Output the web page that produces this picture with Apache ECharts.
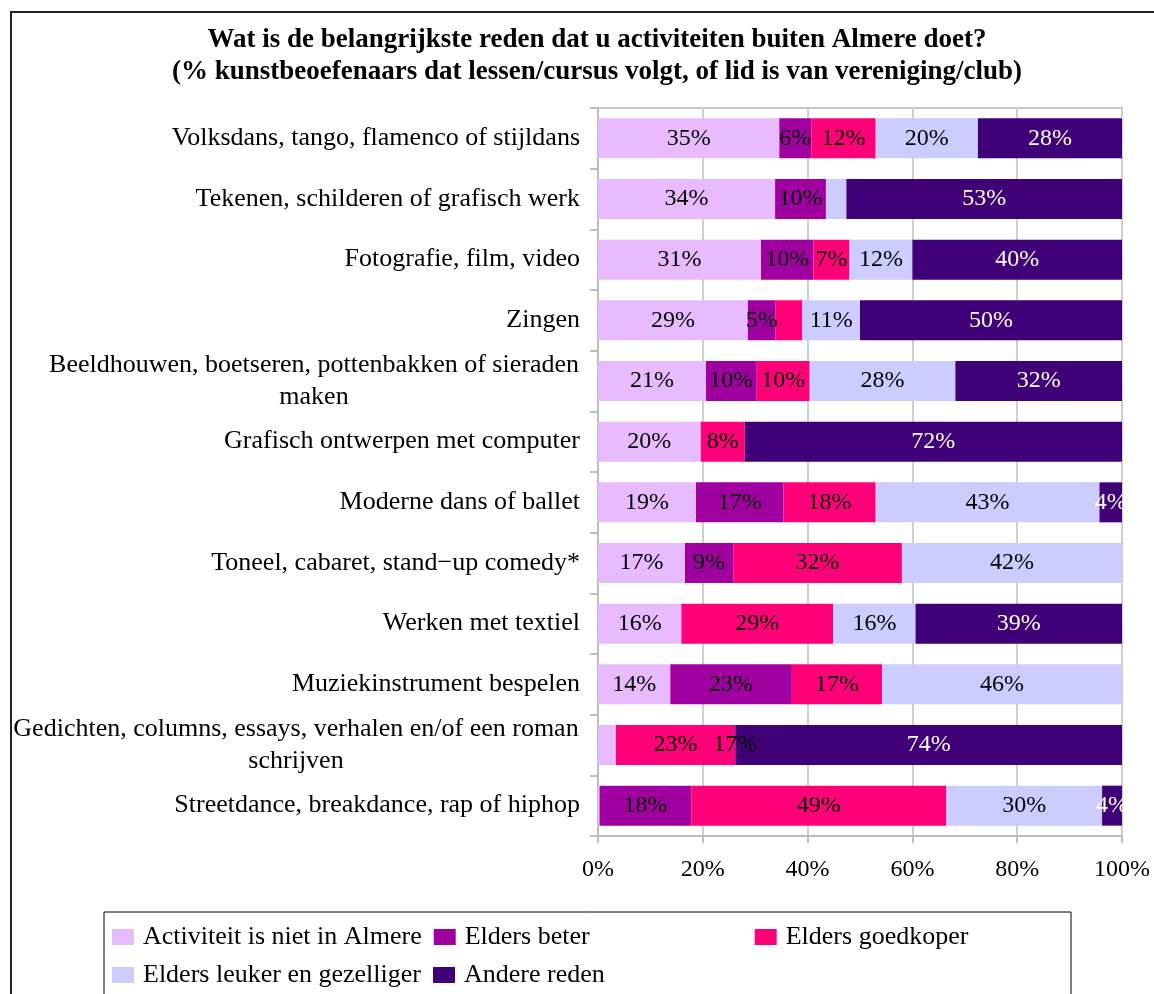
<!DOCTYPE html>
<html>
<head>
<meta charset="utf-8">
<script src="https://cdn.jsdelivr.net/npm/echarts@6/dist/echarts.min.js"></script>
<style>
  html, body { margin: 0; padding: 0; background: #fff; }
  #chart { width: 1154px; height: 994px; }
</style>
</head>
<body>
<div id="chart"></div>
<script>
// ---------- DATA ----------
const titleLines = [
  'Wat is de belangrijkste reden dat u activiteiten buiten Almere doet?',
  '(% kunstbeoefenaars dat lessen/cursus volgt, of lid is van vereniging/club)'
];
const categories = [
  'Volksdans, tango, flamenco of stijldans',
  'Tekenen, schilderen of grafisch werk',
  'Fotografie, film, video',
  'Zingen',
  'Beeldhouwen, boetseren, pottenbakken of sieraden\nmaken',
  'Grafisch ontwerpen met computer',
  'Moderne dans of ballet',
  'Toneel, cabaret, stand\u2212up comedy*',
  'Werken met textiel',
  'Muziekinstrument bespelen',
  'Gedichten, columns, essays, verhalen en/of een roman\nschrijven',
  'Streetdance, breakdance, rap of hiphop'
];
const seriesNames = [
  'Activiteit is niet in Almere',
  'Elders beter',
  'Elders goedkoper',
  'Elders leuker en gezelliger',
  'Andere reden'
];
const activiteit = [34.6, 33.8, 31.1, 28.6, 20.6, 19.6, 18.7, 16.6, 15.9, 13.8, 3.4, 0.3];
const beter      = [6.1, 9.7, 10.0, 5.3, 9.7, 0, 16.7, 9.2, 0, 23.2, 0, 17.5];
const goedkoper  = [12.3, 0, 6.9, 5.1, 10.1, 8.4, 17.6, 32.2, 29.0, 17.2, 22.8, 48.7];
const leuker     = [19.5, 3.9, 12.0, 11.0, 27.8, 0, 42.7, 42.0, 15.7, 45.8, 0, 29.7];
const andere     = [27.5, 52.6, 40.0, 50.0, 31.8, 72.0, 4.3, 0, 39.4, 0, 73.8, 3.8];

// data-label texts as printed in the source chart ('' = no label)
const labActiviteit = ['35%','34%','31%','29%','21%','20%','19%','17%','16%','14%','',''];
const labBeter      = ['6%','10%','10%','5%','10%','','17%','9%','','23%','','18%'];
const labGoedkoper  = ['12%','','7%','','10%','8%','18%','32%','29%','17%','23%','49%'];
const labLeuker     = ['20%','','12%','11%','28%','','43%','42%','16%','46%','17%','30%'];
const labAndere     = ['28%','53%','40%','50%','32%','72%','4%','','39%','','74%','4%'];

const xTickValues = [0, 20, 40, 60, 80, 100];

// ---------- STYLE ----------
const FONT = "'Liberation Serif', 'Times New Roman', serif";
const FS = 24;      // bar labels, x-axis labels
const FS_CAT = 26;  // category labels, legend
const colors = ['#E8BBFF', '#A000A0', '#FF0078', '#CCCCFF', '#400078'];
const labelColors = ['#000', '#000', '#000', '#000', '#fff'];
const valueSets = [activiteit, beter, goedkoper, leuker, andere];
const labelSets = [labActiviteit, labBeter, labGoedkoper, labLeuker, labAndere];

// measure multi-line category labels so their lines can be centred
const cv = document.createElement('canvas').getContext('2d');
cv.font = FS_CAT + 'px ' + FONT;
const rich = {};
categories.forEach((c, i) => {
  const lines = c.split('\n');
  if (lines.length > 1) {
    const w = Math.max(...lines.map(l => cv.measureText(l).width));
    rich['w' + i] = { width: Math.ceil(w) + 2, align: 'center', fontSize: FS_CAT, fontFamily: FONT, color: '#000', lineHeight: 32 };
  }
});

const chart = echarts.init(document.getElementById('chart'), null, { renderer: 'canvas' });

const series = seriesNames.map((name, s) => ({
  name: name,
  type: 'bar',
  stack: 'total',
  barWidth: 40,
  data: valueSets[s],
  itemStyle: { color: colors[s] },
  label: {
    show: true,
    position: 'inside',
    fontFamily: FONT,
    fontSize: FS,
    color: labelColors[s],
    formatter: p => labelSets[s][p.dataIndex]
  },
  emphasis: { disabled: true }
}));

const option = {
  animation: false,
  textStyle: { fontFamily: FONT },
  grid: {
    left: 598, right: 32, top: 108, bottom: 158,
    show: true, borderColor: '#c8c8c8', borderWidth: 2
  },
  xAxis: {
    type: 'value',
    min: 0, max: 100, interval: 20,
    axisLine: { show: true, lineStyle: { color: '#bdbdbd', width: 2 } },
    axisTick: { show: true, length: 7, lineStyle: { color: '#bdbdbd', width: 2 } },
    splitLine: { show: true, lineStyle: { color: '#cfcfcf', width: 2 } },
    axisLabel: {
      margin: 22, fontSize: FS, fontFamily: FONT, color: '#000',
      formatter: v => (xTickValues.includes(v) ? v + '%' : '')
    }
  },
  yAxis: {
    type: 'category',
    data: categories,
    inverse: true,
    axisLine: { show: true, lineStyle: { color: '#bdbdbd', width: 2 } },
    axisTick: { show: true, length: 8, lineStyle: { color: '#bdbdbd', width: 2 } },
    axisLabel: {
      margin: 18, fontSize: FS_CAT, fontFamily: FONT, color: '#000', lineHeight: 32,
      formatter: (v, i) => {
        const lines = v.split('\n');
        if (lines.length === 1) return v;
        return lines.map(l => '{w' + i + '|' + l + '}').join('\n');
      },
      rich: rich
    }
  },
  legend: {
    data: seriesNames,
    left: 112, top: 924, width: 963,
    padding: 0,
    orient: 'horizontal',
    icon: 'rect',
    itemWidth: 22, itemHeight: 16, itemGap: 12,
    selectedMode: false,
    textStyle: {
      fontFamily: FONT, fontSize: FS_CAT, color: '#000',
      width: 278, lineHeight: 24, padding: [0, 0, 0, 4]
    }
  },
  graphic: [
    { type: 'rect', z: 0, silent: true,
      shape: { x: 11, y: 12, width: 1200, height: 1100 },
      style: { fill: 'none', stroke: '#222', lineWidth: 2 } },
    { type: 'rect', z: 0, silent: true,
      shape: { x: 104, y: 912, width: 967, height: 200 },
      style: { fill: 'none', stroke: '#000', lineWidth: 1 } },
    { type: 'rect', z: 100, silent: true,
      shape: { x: 1124, y: 100, width: 40, height: 740 },
      style: { fill: '#fff' } },
    { type: 'text', z: 100, silent: true,
      style: { text: titleLines.join('\n'), x: 597, y: 24, textAlign: 'center',
               font: 'bold 27px ' + FONT, lineHeight: 32, fill: '#000' } }
  ],
  series: series
};
chart.setOption(option);
</script>
</body>
</html>
